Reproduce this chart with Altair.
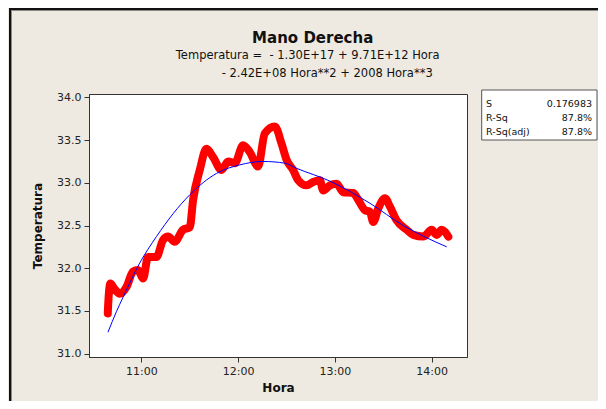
import altair as alt
import pandas as pd

# ---- data ----
red_hora = [10.652, 10.654, 10.679, 10.720, 10.776, 10.845, 10.913, 10.965, 11.017, 11.068,
            11.155, 11.223, 11.275, 11.344, 11.430, 11.500, 11.534, 11.603, 11.672, 11.741,
            11.828, 11.896, 11.965, 12.051, 12.120, 12.206, 12.275, 12.379, 12.448, 12.500,
            12.568, 12.620, 12.707, 12.775, 12.844, 12.879, 12.948, 13.017, 13.085, 13.189,
            13.241, 13.310, 13.362, 13.396, 13.448, 13.517, 13.569, 13.638, 13.741, 13.810,
            13.913, 14.000, 14.052, 14.103, 14.172]
red_temp = [31.47, 31.52, 31.82, 31.76, 31.70, 31.78, 31.96, 31.98, 31.88, 32.13,
            32.13, 32.33, 32.37, 32.31, 32.45, 32.48, 32.80, 33.15, 33.40, 33.30,
            33.15, 33.25, 33.23, 33.44, 33.36, 33.19, 33.58, 33.66, 33.46, 33.27,
            33.15, 33.03, 32.97, 33.01, 33.03, 32.91, 32.97, 32.99, 32.89, 32.88,
            32.80, 32.68, 32.66, 32.54, 32.70, 32.82, 32.72, 32.56, 32.45, 32.39,
            32.37, 32.45, 32.39, 32.45, 32.37]

fit_hora = [10.654, 10.741, 10.810, 10.982, 11.155, 11.500, 11.776, 12.017, 12.258,
            12.482, 12.603, 12.948, 13.362, 13.706, 14.155]
fit_temp = [31.25, 31.49, 31.66, 32.06, 32.37, 32.86, 33.11, 33.21, 33.25,
            33.23, 33.17, 33.02, 32.76, 32.50, 32.25]

x_ticks = [11, 12, 13, 14]
y_ticks = [31.0, 31.5, 32.0, 32.5, 33.0, 33.5, 34.0]
title_lines = ["Mano Derecha",
               "Temperatura =\u00a0\u00a0- 1.30E+17 + 9.71E+12 Hora",
               "- 2.42E+08 Hora**2 + 2008 Hora**3"]
stat_names = ["S", "R-Sq", "R-Sq(adj)"]
stat_values = ["0.176983", "87.8%", "87.8%"]

FONT = "DejaVu Sans"

red_df = pd.DataFrame({"hora": red_hora, "temp": red_temp})
fit_df = pd.DataFrame({"hora": fit_hora, "temp": fit_temp})

xs = alt.Scale(domain=[10.458, 14.365], nice=False, zero=False)
ys = alt.Scale(domain=[30.96, 34.04], nice=False, zero=False)

x_enc = alt.X("hora:Q", scale=xs,
              axis=alt.Axis(values=x_ticks, labelExpr="datum.value + ':00'", title="Hora",
                            grid=False, tickSize=5, labelPadding=3, titlePadding=6))
y_enc = alt.Y("temp:Q", scale=ys,
              axis=alt.Axis(values=y_ticks, format=".1f", title="Temperatura",
                            grid=False, tickSize=5, labelPadding=3, titlePadding=12))

red = alt.Chart(red_df).mark_line(color="#FF0000", strokeWidth=8, strokeCap="round",
                                  strokeJoin="round", interpolate="monotone").encode(
    x=x_enc, y=y_enc, order="hora:Q")
blue = alt.Chart(fit_df).mark_line(color="#0000FF", strokeWidth=1,
                                   interpolate="monotone").encode(
    x="hora:Q", y="temp:Q", order="hora:Q")

layers = [red, blue]

# titles
title_pos = [(223.7, -56, 15, "bold"), (218.7, -38, 11.5, "normal"), (238.2, -20, 11.5, "normal")]
for line, (px, py, fs, fw) in zip(title_lines, title_pos):
    layers.append(
        alt.Chart(pd.DataFrame({"t": [line]})).mark_text(
            font=FONT, fontSize=fs, fontWeight=fw, color="#111111",
            align="center", baseline="middle").encode(
            x=alt.value(px), y=alt.value(py), text="t:N"))

# stats box
box = alt.Chart(pd.DataFrame({"a": [0]})).mark_rect(
    fill="white", stroke="#555555", strokeWidth=1).encode(
    x=alt.value(392.7), x2=alt.value(508), y=alt.value(-4), y2=alt.value(46))
layers.append(box)
row_y = [9.5, 23.5, 37.5]
for name, val, ry in zip(stat_names, stat_values, row_y):
    d = pd.DataFrame({"n": [name], "v": [val]})
    layers.append(alt.Chart(d).mark_text(font=FONT, fontSize=9.5, color="#111111",
                                         align="left", baseline="middle").encode(
        x=alt.value(397), y=alt.value(ry), text="n:N"))
    layers.append(alt.Chart(d).mark_text(font=FONT, fontSize=9.5, color="#111111",
                                         align="right", baseline="middle").encode(
        x=alt.value(503), y=alt.value(ry), text="v:N"))

# outer frame (top & left edges)
frame_d = pd.DataFrame({"a": [0]})
layers.append(alt.Chart(frame_d).mark_rule(color="#111111", strokeWidth=2).encode(
    x=alt.value(-79), y=alt.value(-85), y2=alt.value(310)))
layers.append(alt.Chart(frame_d).mark_rule(color="#111111", strokeWidth=2).encode(
    x=alt.value(-80), x2=alt.value(510), y=alt.value(-85)))
layers.append(alt.Chart(frame_d).mark_rule(color="#8a8a8a", strokeWidth=1).encode(
    x=alt.value(-77.5), y=alt.value(-84), y2=alt.value(310)))
layers.append(alt.Chart(frame_d).mark_rule(color="#8a8a8a", strokeWidth=1).encode(
    x=alt.value(-78), x2=alt.value(510), y=alt.value(-83.5)))

chart = alt.layer(*layers).properties(
    width=378, height=263,
    padding={"left": 81, "top": 86, "right": 131, "bottom": 44},
    autosize=alt.AutoSizeParams(type="none"),
).configure(
    background="#EEEAE1",
).configure_view(
    fill="white", stroke="#333333", strokeWidth=1,
).configure_axis(
    labelFont=FONT, labelFontSize=11, labelColor="#222222",
    titleFont=FONT, titleFontSize=12, titleFontWeight="bold", titleColor="#111111",
    domainColor="#333333", tickColor="#333333",
)

chart.save("out.html", embed_options={"renderer": "svg", "actions": False})
